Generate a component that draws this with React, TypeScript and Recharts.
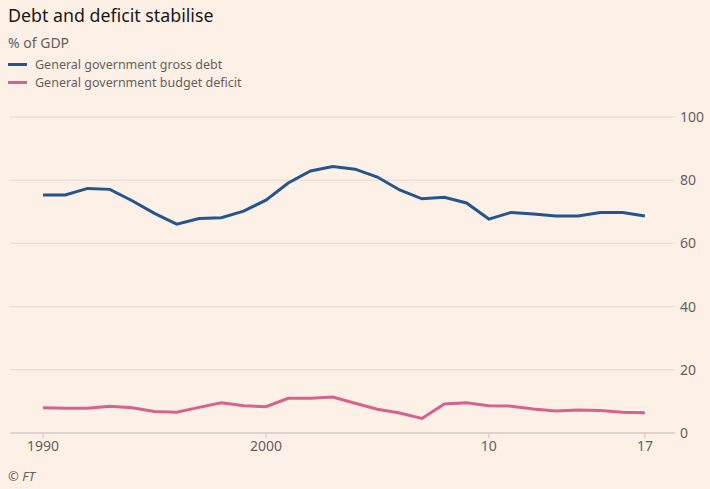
import { LineChart, Line, XAxis, YAxis, CartesianGrid } from 'recharts'

const years = [
  1990, 1991, 1992, 1993, 1994, 1995, 1996, 1997, 1998, 1999,
  2000, 2001, 2002, 2003, 2004, 2005, 2006, 2007, 2008, 2009,
  2010, 2011, 2012, 2013, 2014, 2015, 2016, 2017,
]
const grossDebt = [
  75.3, 75.3, 77.4, 77.1, 73.5, 69.5, 66.1, 67.9, 68.1, 70.2,
  73.7, 79.1, 82.9, 84.3, 83.5, 81.0, 76.9, 74.1, 74.6, 72.8,
  67.7, 69.8, 69.3, 68.7, 68.7, 69.8, 69.8, 68.7,
]
const budgetDeficit = [
  8.0, 7.8, 7.8, 8.5, 8.0, 6.8, 6.6, 8.1, 9.6, 8.6,
  8.3, 11.0, 11.0, 11.4, 9.4, 7.5, 6.3, 4.6, 9.2, 9.6,
  8.6, 8.5, 7.6, 7.0, 7.3, 7.1, 6.6, 6.4,
]
const xTicks = [1990, 2000, 2010, 2017]
const yTicks = [0, 20, 40, 60, 80, 100]

const data = years.map((year, i) => ({
  year,
  debt: grossDebt[i],
  deficit: budgetDeficit[i],
}))

const BG = '#fdf1e7'
const BLUE = '#24558f'
const PINK = '#d7628b'
const GRID = '#e4dad0'
const MUTED = '#66605c'
const FONT = '"Noto Sans", sans-serif'

const tickStyle = { fill: MUTED, fontSize: 14, fontFamily: FONT }

export default function App() {
  return (
    <div style={{ position: 'relative', width: 710, height: 489, background: BG, fontFamily: FONT, overflow: 'hidden' }}>
      <style>{`body{margin:0}`}</style>
      <div style={{ position: 'absolute', left: 8, top: 3, fontSize: 17.8, color: '#1a1817' }}>
        Debt and deficit stabilise
      </div>
      <div style={{ position: 'absolute', left: 8, top: 33, fontSize: 14, color: MUTED }}>% of GDP</div>
      {[
        { label: 'General government gross debt', color: BLUE, top: 57 },
        { label: 'General government budget deficit', color: PINK, top: 74.5 },
      ].map(item => (
        <div key={item.label} style={{ position: 'absolute', left: 8, top: item.top, height: 15, lineHeight: '15px', display: 'flex', alignItems: 'center', fontSize: 12.5, color: MUTED }}>
          <span style={{ display: 'inline-block', width: 19, height: 3, background: item.color, marginRight: 8 }} />
          {item.label}
        </div>
      ))}
      <div style={{ position: 'absolute', left: 8, top: 467, fontSize: 13, fontStyle: 'italic', color: MUTED }}>© FT</div>
      <div style={{ position: 'absolute', left: 0, top: 0 }}>
        <LineChart width={710} height={489} data={data} margin={{ top: 117, right: 0, left: 10, bottom: 26 }}>
          <CartesianGrid vertical={false} stroke={GRID} />
          <XAxis
            dataKey="year"
            type="number"
            domain={[1988.52, 2018.35]}
            allowDataOverflow
            ticks={xTicks}
            tickFormatter={(v: number) => (v === 1990 || v === 2000 ? String(v) : String(v).slice(2))}
            tick={tickStyle}
            tickSize={5}
            tickMargin={3}
            tickLine={{ stroke: '#cfc5bc' }}
            axisLine={{ stroke: '#cfc5bc' }}
            height={30}
          />
          <YAxis
            orientation="right"
            domain={[0, 100]}
            ticks={yTicks}
            tick={tickStyle}
            tickLine={false}
            axisLine={false}
            tickSize={0}
            tickMargin={5}
            width={35}
          />
          <Line type="linear" dataKey="debt" stroke={BLUE} strokeWidth={3} dot={false} isAnimationActive={false} />
          <Line type="linear" dataKey="deficit" stroke={PINK} strokeWidth={3} dot={false} isAnimationActive={false} />
        </LineChart>
      </div>
    </div>
  )
}
